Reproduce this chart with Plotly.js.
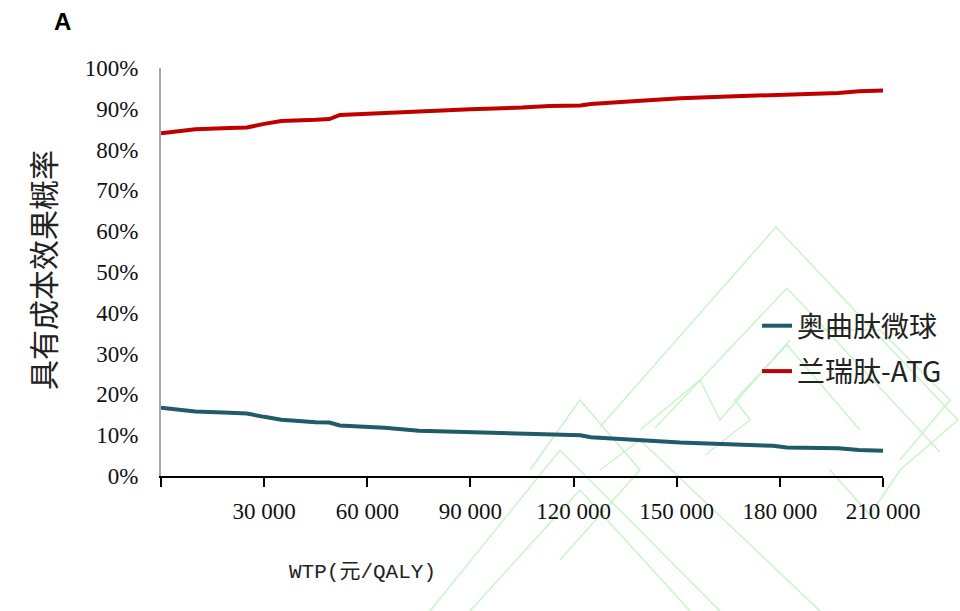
<!DOCTYPE html>
<html>
<head>
<meta charset="utf-8">
<script src="https://cdn.plot.ly/plotly-3.0.1.min.js"></script>
<style>html,body{margin:0;padding:0;background:#fff;}#chart{width:960px;height:611px;}</style>
</head>
<body>
<div id="chart"></div>
<script>
// WTP (元/QALY)
const wtp = [0, 10000, 20000, 25000, 30000, 35000, 45000, 49000, 52000, 60000, 65000, 75000, 90000, 105000, 113000, 122000, 125000, 135000, 145000, 151000, 165000, 178000, 182000, 197000, 203000, 210000];
// 奥曲肽微球 probability (%)
const octreotide = [16.7, 15.8, 15.5, 15.3, 14.5, 13.8, 13.2, 13.1, 12.4, 12.1, 11.8, 11.1, 10.8, 10.4, 10.1, 10.0, 9.5, 9.0, 8.6, 8.2, 7.8, 7.4, 7.0, 6.8, 6.4, 6.2];
// 兰瑞肽-ATG probability (%)
const lanreotide = [84.0, 85.0, 85.3, 85.4, 86.3, 87.0, 87.3, 87.5, 88.5, 88.8, 89.0, 89.5, 89.9, 90.3, 90.7, 90.8, 91.2, 91.7, 92.2, 92.6, 93.0, 93.3, 93.6, 93.9, 94.3, 94.5];
const seriesNames = ['奥曲肽微球', '兰瑞肽-ATG'];
const xTickVals = [0, 30000, 60000, 90000, 120000, 150000, 180000, 210000];
const xTickText = ['', '30 000', '60 000', '90 000', '120 000', '150 000', '180 000', '210 000'];
const yTickVals = [0, 10, 20, 30, 40, 50, 60, 70, 80, 90, 100];
const yTickText = yTickVals.map(v => v + '%');

const SERIF = "'Liberation Serif', 'Times New Roman', Times, serif";
const CJK = "'Noto Sans CJK SC', sans-serif";

// plot area in pixels
const L = 161, R = 883, T = 68, B = 476;
const px = x => (x - L) / (R - L);
const py = y => (B - y) / (B - T);
function path(pts) {
  return pts.map((p, i) => (i ? 'L' : 'M') + px(p[0]).toFixed(4) + ',' + py(p[1]).toFixed(4)).join(' ');
}
// faint watermark outlines (decoration)
const wm = [
  [[600,427],[776,227],[958,420]],
  [[655,428],[787,288],[940,452]],
  [[705,455],[750,420],[735,400],[787,345],[860,430]],
  [[640,430],[700,380],[720,420],[790,340]],
  [[530,470],[580,400],[640,470],[560,560]],
  [[430,611],[560,450],[720,611]],
  [[470,611],[580,490],[690,611]],
  [[600,470],[640,440],[820,611]],
  [[830,470],[870,515],[900,470],[958,420]],
  [[800,330],[880,330],[950,400],[900,460]]
];
const shapes = wm.map(pts => ({type:'path', xref:'paper', yref:'paper', path: path(pts), line:{color:'#c8f5c8', width:1.5}, layer:'below'}));

const data = [
  {x: wtp, y: octreotide, name: seriesNames[0], type: 'scatter', mode: 'lines', line: {color: '#215a69', width: 4}, legendgroup: 'a'},
  {x: wtp, y: lanreotide, name: seriesNames[1], type: 'scatter', mode: 'lines', line: {color: '#c00000', width: 4}, legendgroup: 'b'}
];

const layout = {
  width: 960, height: 611,
  margin: {l: L, r: 960 - R, t: T, b: 611 - B, pad: 0},
  paper_bgcolor: '#ffffff', plot_bgcolor: 'rgba(0,0,0,0)',
  showlegend: true,
  legend: {x: px(757), y: py(301), xanchor: 'left', yanchor: 'top', bgcolor: 'rgba(0,0,0,0)',
           font: {family: CJK, size: 28, color: '#222'}, tracegroupgap: 6, traceorder: 'grouped'},
  xaxis: {range: [0, 210000], tickvals: xTickVals, ticktext: xTickText, showgrid: false, zeroline: false,
          showline: true, linecolor: '#000', linewidth: 2, ticks: 'outside', ticklen: 9, tickwidth: 2, tickcolor: '#000',
          ticklabelstandoff: 4, tickfont: {family: SERIF, size: 23, color: '#111'}},
  yaxis: {range: [0, 100], tickvals: yTickVals, ticktext: yTickText, showgrid: false, zeroline: false,
          showline: true, linecolor: '#a6a6a6', linewidth: 2, ticks: '', ticklabelstandoff: 16,
          tickfont: {family: SERIF, size: 23, color: '#111'}},
  shapes: shapes,
  annotations: [
    {text: '<b>A</b>', xref: 'paper', yref: 'paper', x: px(62), y: py(22), showarrow: false, xanchor: 'center', yanchor: 'middle',
     font: {family: "'Liberation Sans', Arial, sans-serif", size: 24, color: '#000'}},
    {text: '具有成本效果概率', xref: 'paper', yref: 'paper', x: px(42), y: py(270), textangle: -90, showarrow: false,
     xanchor: 'center', yanchor: 'middle', font: {family: CJK, size: 30, color: '#222'}},
    {text: 'WTP(元/QALY)', xref: 'paper', yref: 'paper', x: px(362), y: py(572), showarrow: false,
     xanchor: 'center', yanchor: 'middle', font: {family: "'Liberation Mono', 'Noto Sans CJK SC', monospace", size: 21, color: '#222'}}
  ]
};
Plotly.newPlot('chart', data, layout, {displayModeBar: false, staticPlot: true});
</script>
</body>
</html>
